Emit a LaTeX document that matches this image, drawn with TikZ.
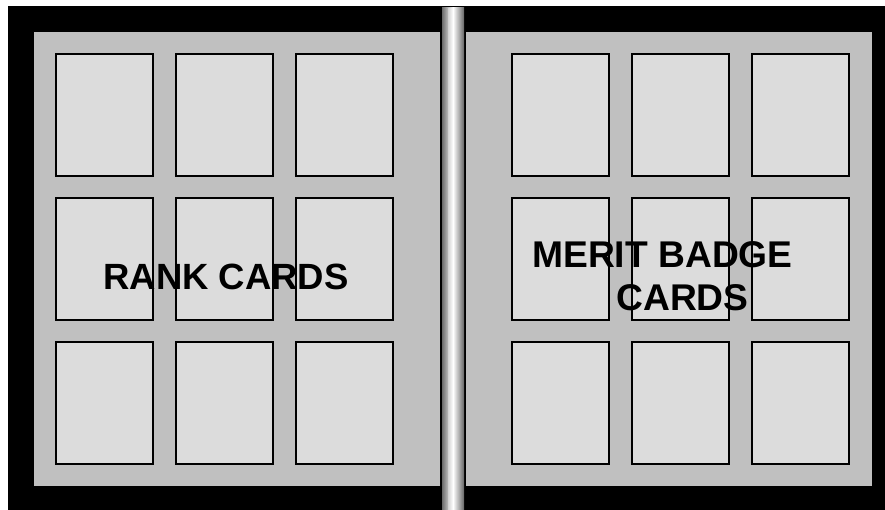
\documentclass[tikz,border=0pt]{standalone}
\usepackage{fontspec}
\setmainfont{Liberation Sans}
\begin{document}
\begin{tikzpicture}[x=1pt,y=-1pt,
  panel/.style={fill=panelgray,draw=none},
  card/.style={fill=cardgray,draw=black,line width=1.6pt},
  label/.style={font=\bfseries\fontsize{36.5}{42}\selectfont,text=black,inner sep=0pt,anchor=base}]
\definecolor{panelgray}{HTML}{C0C0C0}
\definecolor{cardgray}{HTML}{DCDCDC}
\useasboundingbox (0,0) rectangle (885,510);
\fill[white] (0,0) rectangle (885,510);
\fill[black] (8,6) rectangle (885,510);
% panels
\fill[panelgray] (34,32) rectangle (440,486);
\fill[panelgray] (466,32) rectangle (872,486);
% spine
\fill[black] (440,6) rectangle (466,510);
\shade[left color=gray!85!black, right color=gray!80!black, middle color=white] (442,8) rectangle (464,510);
\fill[white,opacity=0.35] (448,8) rectangle (453,510);
% cards
\foreach \c/\x in {1/56,2/176,3/296}{
  \foreach \r/\y in {1/54,2/198,3/342}{
    \draw[card] (\x,\y) rectangle ++(97,122);
  }
}
\foreach \c/\x in {1/512,2/632,3/752}{
  \foreach \r/\y in {1/54,2/198,3/342}{
    \draw[card] (\x,\y) rectangle ++(97,122);
  }
}
% labels
\node[label] (rank) at (226,290) {RANK CARDS};
\node[label,font=\bfseries\fontsize{37.2}{42}\selectfont] (merit) at (662.5,268) {MERIT BADGE};
\node[label,font=\bfseries\fontsize{37.2}{42}\selectfont] (cards) at (682.5,310) {CARDS};
\end{tikzpicture}
\end{document}
